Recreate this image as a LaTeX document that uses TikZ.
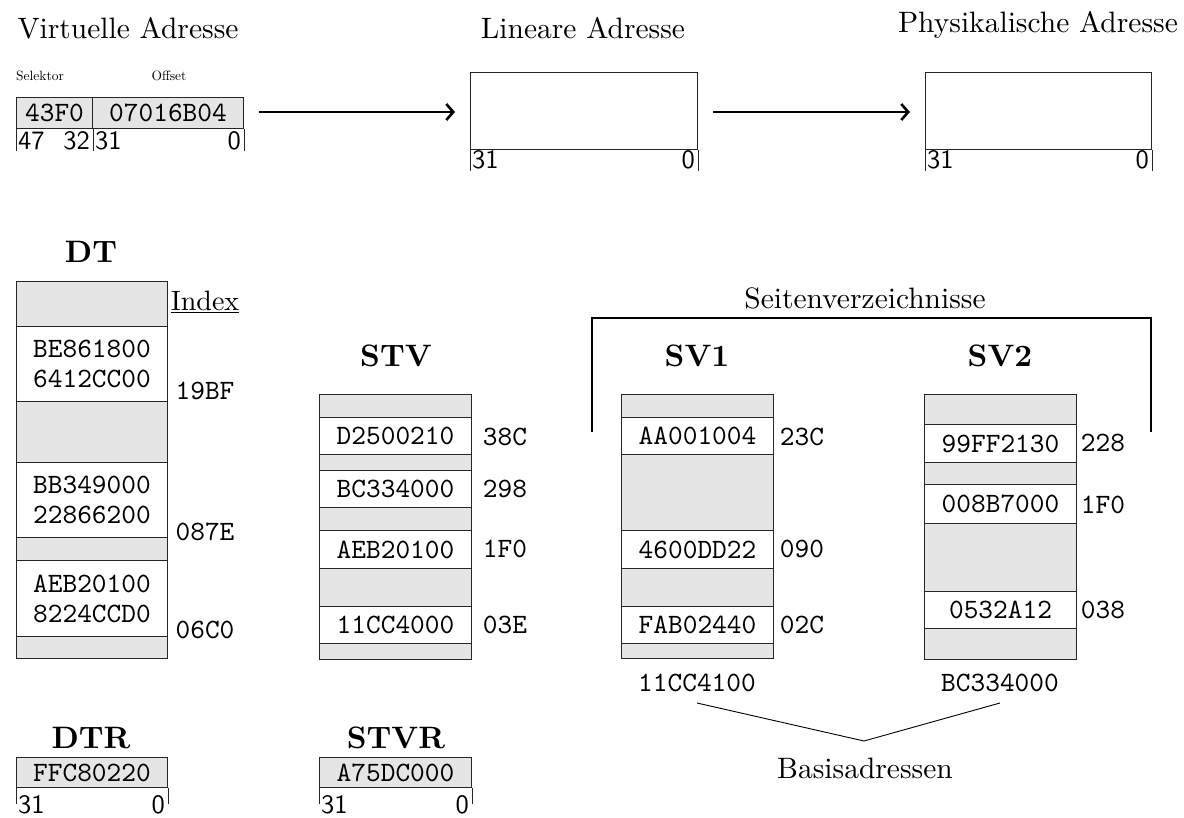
\documentclass[tikz,border=0pt]{standalone}
\usepackage{fontspec}
\setmainfont{lmroman10-regular.otf}[BoldFont=lmroman10-bold.otf]
\setsansfont{lmsans10-regular.otf}
\setmonofont{lmmono10-regular.otf}
\usetikzlibrary{arrows.meta}
\newcommand\mono{\fontsize{28}{30}\ttfamily}
\newcommand\txt{\fontsize{29.5}{32}\selectfont}
\newcommand\idxtxt{\fontsize{28}{32}\selectfont}
\newcommand\ttl{\fontsize{31}{34}\selectfont\bfseries}
\newcommand\bitf{\fontsize{26.5}{28}\sffamily}
\newcommand\smtxt{\fontsize{13.5}{15}\selectfont}
\newcommand\mycell[7]{\node[cellbox, fill=#6, minimum width=#5pt, minimum height={(#4-#3)*1pt}] (#1) at (#2,#3) {#7};}
\tikzset{
  cellbox/.style={draw=black!85, line width=1pt, inner sep=0pt, anchor=north west, font=\mono, align=center},
  lbl/.style={inner sep=0pt, font=\txt},
  idx/.style={inner sep=0pt, font=\mono},
  ttlnode/.style={inner sep=0pt, font=\ttl},
  bitlbl/.style={inner sep=0pt, font=\bitf},
  tick/.style={draw=black!85, line width=1pt},
  bigarrow/.style={line width=2.6pt, -{Straight Barb[length=7pt,width=16pt]}, shorten <=15pt, shorten >=15pt},
  thin/.style={line width=0.9pt},
  brack/.style={line width=1.6pt}
}
\begin{document}
\begin{tikzpicture}[x=1pt,y=-1pt]
\useasboundingbox (0,0) rectangle (1184,818);
% ---------- top row ----------
\node[lbl] (tva) at (128,28) {Virtuelle Adresse};
\node[lbl] (tla) at (583,28) {Lineare Adresse};
\node[lbl] (tpa) at (1038,25) {Physikalische Adresse};
\node[inner sep=0pt, font=\smtxt] (tsel) at (40,76) {Selektor};
\node[inner sep=0pt, font=\smtxt] (toff) at (169,76) {Offset};
\mycell{sel}{16}{97}{128}{76}{gray!20}{43F0}
\mycell{off}{92}{97}{128}{151}{gray!20}{07016B04}
\draw[tick] (sel.south west) -- ++(0,22);
\draw[tick] (sel.south east) -- ++(0,22);
\draw[tick] (off.south east) -- ++(0,22);
\node[bitlbl, anchor=west] (b47) at (18,141) {47};
\node[bitlbl, anchor=east] (b32) at (90,141) {32};
\node[bitlbl, anchor=west] (b31a) at (95,141) {31};
\node[bitlbl, anchor=east] (b0a) at (241,141) {0};
\mycell{lin}{470}{72}{149}{227}{white}{}
\draw[tick] (lin.south west) -- ++(0,21);
\draw[tick] (lin.south east) -- ++(0,21);
\node[bitlbl, anchor=west] (b31b) at (472,160) {31};
\node[bitlbl, anchor=east] (b0b) at (695,160) {0};
\mycell{phy}{925}{72}{149}{226}{white}{}
\draw[tick] (phy.south west) -- ++(0,21);
\draw[tick] (phy.south east) -- ++(0,21);
\node[bitlbl, anchor=west] (b31c) at (927,160) {31};
\node[bitlbl, anchor=east] (b0c) at (1149,160) {0};
\draw[bigarrow] (off.east |- 0,112) -- (lin.west |- 0,112);
\draw[bigarrow] (lin.east |- 0,112) -- (phy.west |- 0,112);
% ---------- DT ----------
\node[ttlnode] (tdt) at (91,252) {DT};
\mycell{dt1}{16}{281}{326}{151}{gray!20}{}
\mycell{dt2}{16}{326}{401}{151}{white}{BE861800\\6412CC00}
\mycell{dt3}{16}{401}{462}{151}{gray!20}{}
\mycell{dt4}{16}{462}{537}{151}{white}{BB349000\\22866200}
\mycell{dt5}{16}{537}{560}{151}{gray!20}{}
\mycell{dt6}{16}{560}{636}{151}{white}{AEB20100\\8224CCD0}
\mycell{dt7}{16}{636}{658}{151}{gray!20}{}
\node[inner sep=0pt, font=\idxtxt] (tidx) at (205,302) {\underline{Index}};
\node[idx] (i1) at (205,391) {19BF};
\node[idx] (i2) at (205,532) {087E};
\node[idx] (i3) at (205,630) {06C0};
% ---------- STV ----------
\node[ttlnode] (tstv) at (396,356) {STV};
\mycell{s1}{319}{394}{417}{152}{gray!20}{}
\mycell{s2}{319}{417}{454}{152}{white}{D2500210}
\mycell{s3}{319}{454}{470}{152}{gray!20}{}
\mycell{s4}{319}{470}{507}{152}{white}{BC334000}
\mycell{s5}{319}{507}{530}{152}{gray!20}{}
\mycell{s6}{319}{530}{568}{152}{white}{AEB20100}
\mycell{s7}{319}{568}{606}{152}{gray!20}{}
\mycell{s8}{319}{606}{643}{152}{white}{11CC4000}
\mycell{s9}{319}{643}{659}{152}{gray!20}{}
\node[idx] (si1) at (505,437) {38C};
\node[idx] (si2) at (505,489) {298};
\node[idx] (si3) at (505,549) {1F0};
\node[idx] (si4) at (505,625) {03E};
% ---------- SV1 ----------
\node[ttlnode] (tsv1) at (697,356) {SV1};
\mycell{a1}{621}{394}{417}{152}{gray!20}{}
\mycell{a2}{621}{417}{454}{152}{white}{AA001004}
\mycell{a3}{621}{454}{530}{152}{gray!20}{}
\mycell{a4}{621}{530}{568}{152}{white}{4600DD22}
\mycell{a5}{621}{568}{606}{152}{gray!20}{}
\mycell{a6}{621}{606}{643}{152}{white}{FAB02440}
\mycell{a7}{621}{643}{658}{152}{gray!20}{}
\node[idx] (ai1) at (802,437) {23C};
\node[idx] (ai2) at (802,549) {090};
\node[idx] (ai3) at (802,625) {02C};
\node[idx] (base1) at (697,683) {11CC4100};
% ---------- SV2 ----------
\node[ttlnode] (tsv2) at (1000,356) {SV2};
\mycell{c1}{924}{394}{424}{152}{gray!20}{}
\mycell{c2}{924}{424}{462}{152}{white}{99FF2130}
\mycell{c3}{924}{462}{484}{152}{gray!20}{}
\mycell{c4}{924}{484}{523}{152}{white}{008B7000}
\mycell{c5}{924}{523}{591}{152}{gray!20}{}
\mycell{c6}{924}{591}{628}{152}{white}{0532A12}
\mycell{c7}{924}{628}{659}{152}{gray!20}{}
\node[idx] (ci1) at (1103,443) {228};
\node[idx] (ci2) at (1103,505) {1F0};
\node[idx] (ci3) at (1103,610) {038};
\node[idx] (base2) at (1000,683) {BC334000};
% ---------- bracket ----------
\node[lbl] (tsvz) at (865,298) {Seitenverzeichnisse};
\coordinate (bl) at (592,432);
\coordinate (br) at (1151,432);
\draw[brack] (bl) -- (bl |- 0,318) -- (br |- 0,318) -- (br);
% ---------- Basisadressen ----------
\node[lbl] (tbas) at (865,768) {Basisadressen};
\coordinate (bj) at (864,741);
\draw[thin] (base1.south |- 0,703) -- (bj) -- (base2.south |- 0,703);
% ---------- DTR / STVR ----------
\node[ttlnode] (tdtr) at (91,738) {DTR};
\mycell{dtr}{16}{757}{787}{151}{gray!20}{FFC80220}
\draw[tick] (dtr.south west) -- ++(0,16);
\draw[tick] (dtr.south east) -- ++(0,16);
\node[bitlbl, anchor=west] (b31d) at (18,805) {31};
\node[bitlbl, anchor=east] (b0d) at (165,805) {0};
\node[ttlnode] (tstvr) at (396,738) {STVR};
\mycell{stvr}{319}{757}{787}{152}{gray!20}{A75DC000}
\draw[tick] (stvr.south west) -- ++(0,16);
\draw[tick] (stvr.south east) -- ++(0,16);
\node[bitlbl, anchor=west] (b31e) at (321,805) {31};
\node[bitlbl, anchor=east] (b0e) at (469,805) {0};
\end{tikzpicture}
\end{document}
